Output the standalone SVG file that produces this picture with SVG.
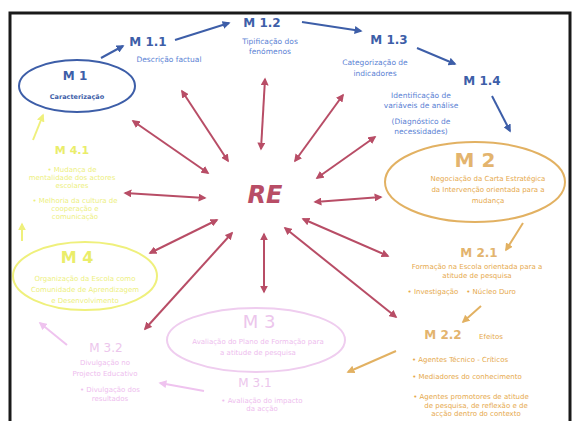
<svg xmlns="http://www.w3.org/2000/svg" width="572" height="421" viewBox="0 0 572 421">
  <defs>
    <style>
      text { font-family: "DejaVu Sans", Verdana, sans-serif; text-anchor: middle; }
      .blue-h { fill: #3d5ea8; font-weight: bold; font-size: 12px; }
      .blue-t { fill: #5b82d4; font-size: 7.5px; }
      .red { stroke: #b84d66; stroke-width: 2; fill: none; marker-start: url(#rh); marker-end: url(#rh); }
      .blue-l { stroke: #3d5ea8; stroke-width: 2; fill: none; marker-end: url(#bh); }
      .org-l { stroke: #e2b162; stroke-width: 2; fill: none; marker-end: url(#oh); }
      .yel-l { stroke: #eff07c; stroke-width: 2; fill: none; marker-end: url(#yh); }
      .pnk-l { stroke: #efc3ef; stroke-width: 2; fill: none; marker-end: url(#ph); }
      .org-h { fill: #e3b46e; font-weight: bold; }
      .org-t { fill: #e6a94c; font-size: 7px; }
      .yel-h { fill: #eaed6a; font-weight: bold; }
      .yel-t { fill: #edef80; font-size: 7px; }
      .pnk-h { fill: #ecc6ec; }
      .pnk-t { fill: #eebdee; font-size: 7px; }
    </style>
    <marker id="rh" viewBox="0 0 10 10" refX="8" refY="5" markerWidth="4" markerHeight="4" orient="auto-start-reverse">
      <path d="M0,0 L10,5 L0,10 z" fill="#b84d66"/>
    </marker>
    <marker id="bh" viewBox="0 0 10 10" refX="8" refY="5" markerWidth="4" markerHeight="4" orient="auto">
      <path d="M0,0 L10,5 L0,10 z" fill="#3d5ea8"/>
    </marker>
    <marker id="oh" viewBox="0 0 10 10" refX="8" refY="5" markerWidth="4" markerHeight="4" orient="auto">
      <path d="M0,0 L10,5 L0,10 z" fill="#e2b162"/>
    </marker>
    <marker id="yh" viewBox="0 0 10 10" refX="8" refY="5" markerWidth="4" markerHeight="4" orient="auto">
      <path d="M0,0 L10,5 L0,10 z" fill="#eff07c"/>
    </marker>
    <marker id="ph" viewBox="0 0 10 10" refX="8" refY="5" markerWidth="4" markerHeight="4" orient="auto">
      <path d="M0,0 L10,5 L0,10 z" fill="#efc3ef"/>
    </marker>
  </defs>

  <rect width="572" height="421" fill="#ffffff"/>
  <!-- frame -->
  <path d="M10,423 L10,13 L570,13 L570,423" fill="none" stroke="#1a1a1a" stroke-width="3"/>

  <!-- connectors -->
  <g id="connectors">
    <!-- chain M1 -> M1.1 -> M1.2 -> M1.3 -> M1.4 -> M2 -->
    <line class="blue-l" x1="101" y1="58" x2="123" y2="46"/>
    <line class="blue-l" x1="175" y1="40" x2="229" y2="23"/>
    <line class="blue-l" x1="302" y1="22" x2="361" y2="31"/>
    <line class="blue-l" x1="417" y1="48" x2="455" y2="64"/>
    <line class="blue-l" x1="492" y1="96" x2="510" y2="131"/>
    <!-- RE spokes -->
    <line class="red" x1="133" y1="121" x2="208" y2="173"/>
    <line class="red" x1="182" y1="91" x2="228" y2="161"/>
    <line class="red" x1="265" y1="79" x2="261" y2="149"/>
    <line class="red" x1="343" y1="95" x2="295" y2="161"/>
    <line class="red" x1="375" y1="137" x2="317" y2="178"/>
    <line class="red" x1="125" y1="193" x2="205" y2="198"/>
    <line class="red" x1="381" y1="197" x2="315" y2="202"/>
    <line class="red" x1="150" y1="253" x2="217" y2="220"/>
    <line class="red" x1="145" y1="329" x2="232" y2="233"/>
    <line class="red" x1="264" y1="292" x2="264" y2="234"/>
    <line class="red" x1="396" y1="317" x2="285" y2="228"/>
    <line class="red" x1="388" y1="256" x2="303" y2="219"/>
    <!-- M2 branch -->
    <line class="org-l" x1="523" y1="223" x2="506" y2="250"/>
    <line class="org-l" x1="481" y1="306" x2="463" y2="322"/>
    <line class="org-l" x1="396" y1="351" x2="348" y2="372"/>
    <!-- M3 branch -->
    <line class="pnk-l" x1="204" y1="391" x2="160" y2="383"/>
    <line class="pnk-l" x1="67" y1="345" x2="40" y2="323"/>
    <!-- M4 branch -->
    <line class="yel-l" x1="22" y1="241" x2="22" y2="224"/>
    <line class="yel-l" x1="33" y1="140" x2="43" y2="115"/>
  </g>

  <!-- centre -->
  <g id="re">
    <text x="265" y="203" font-size="24" font-weight="bold" font-style="italic" fill="#b84d66">RE</text>
  </g>

  <g id="m1">
    <ellipse cx="77" cy="86" rx="58" ry="26" fill="none" stroke="#3d5ea8" stroke-width="2"/>
    <text x="75" y="80" class="blue-h" font-size="18">M 1</text>
    <text x="77" y="99" fill="#3d5ea8" font-size="6.5" font-weight="bold">Caracterização</text>
  </g>
  <g id="m1-1">
    <text x="148" y="46" class="blue-h">M 1.1</text>
    <text x="169" y="62" class="blue-t">Descrição factual</text>
  </g>
  <g id="m1-2">
    <text x="262" y="27" class="blue-h">M 1.2</text>
    <text x="270" y="44" class="blue-t">Tipificação dos</text>
    <text x="270" y="54" class="blue-t">fenómenos</text>
  </g>
  <g id="m1-3">
    <text x="389" y="44" class="blue-h">M 1.3</text>
    <text x="375" y="65" class="blue-t">Categorização de</text>
    <text x="375" y="76" class="blue-t">indicadores</text>
  </g>
  <g id="m1-4">
    <text x="482" y="85" class="blue-h">M 1.4</text>
    <text x="421" y="98" class="blue-t">Identificação de</text>
    <text x="421" y="108" class="blue-t">variáveis de análise</text>
    <text x="421" y="124" class="blue-t">(Diagnóstico de</text>
    <text x="421" y="134" class="blue-t">necessidades)</text>
  </g>

  <g id="m2">
    <ellipse cx="475" cy="182" rx="90" ry="40" fill="none" stroke="#e2b162" stroke-width="2"/>
    <text x="475" y="167" class="org-h" font-size="20">M 2</text>
    <text x="488" y="181" class="org-t" font-size="6.5">Negociação da Carta Estratégica</text>
    <text x="488" y="192" class="org-t" font-size="6.5">da Intervenção orientada para a</text>
    <text x="488" y="203" class="org-t" font-size="6.5">mudança</text>
  </g>
  <g id="m2-1">
    <text x="479" y="257" class="org-h" font-size="12">M 2.1</text>
    <text x="477" y="269" class="org-t">Formação na Escola orientada para a</text>
    <text x="477" y="278" class="org-t">atitude de pesquisa</text>
    <text x="433" y="294" class="org-t">•  Investigação</text>
    <text x="491" y="294" class="org-t">•  Núcleo Duro</text>
  </g>
  <g id="m2-2">
    <text x="443" y="339" class="org-h" font-size="12" font-weight="normal">M 2.2</text>
    <text x="491" y="339" class="org-t">Efeitos</text>
    <text x="460" y="362" class="org-t">•  Agentes Técnico - Críticos</text>
    <text x="467" y="379" class="org-t">•  Mediadores do conhecimento</text>
    <text x="471" y="399" class="org-t">•  Agentes promotores de atitude</text>
    <text x="476" y="408" class="org-t">de pesquisa, de reflexão e de</text>
    <text x="476" y="416" class="org-t">acção dentro do contexto</text>
  </g>

  <g id="m3">
    <ellipse cx="256" cy="340" rx="89" ry="32" fill="none" stroke="#efcdef" stroke-width="2"/>
    <text x="259" y="328" class="pnk-h" font-size="18">M 3</text>
    <text x="258" y="344" class="pnk-t" font-size="6.5">Avaliação do Plano de Formação para</text>
    <text x="258" y="355" class="pnk-t" font-size="6.5">a atitude de pesquisa</text>
  </g>
  <g id="m3-1">
    <text x="255" y="387" class="pnk-h" font-size="12">M 3.1</text>
    <text x="262" y="403" class="pnk-t">•  Avaliação do impacto</text>
    <text x="262" y="411" class="pnk-t">da acção</text>
  </g>
  <g id="m3-2">
    <text x="106" y="352" class="pnk-h" font-size="12">M 3.2</text>
    <text x="105" y="365" class="pnk-t">Divulgação no</text>
    <text x="105" y="376" class="pnk-t">Projecto Educativo</text>
    <text x="110" y="392" class="pnk-t">•  Divulgação dos</text>
    <text x="110" y="401" class="pnk-t">resultados</text>
  </g>

  <g id="m4">
    <ellipse cx="85" cy="276" rx="72" ry="34" fill="none" stroke="#eff07c" stroke-width="2"/>
    <text x="77" y="263" class="yel-h" font-size="16" font-weight="normal">M 4</text>
    <text x="85" y="281" class="yel-t" font-size="6.5">Organização da Escola como</text>
    <text x="85" y="292" class="yel-t" font-size="6.5">Comunidade de Aprendizagem</text>
    <text x="85" y="303" class="yel-t" font-size="6.5">e Desenvolvimento</text>
  </g>
  <g id="m4-1">
    <text x="72" y="154" class="yel-h" font-size="11">M 4.1</text>
    <text x="72" y="172" class="yel-t">•  Mudança de</text>
    <text x="72" y="180" class="yel-t">mentalidade dos actores</text>
    <text x="72" y="188" class="yel-t">escolares</text>
    <text x="75" y="203" class="yel-t">•  Melhoria da cultura de</text>
    <text x="75" y="211" class="yel-t">cooperação e</text>
    <text x="75" y="219" class="yel-t">comunicação</text>
  </g>
</svg>
